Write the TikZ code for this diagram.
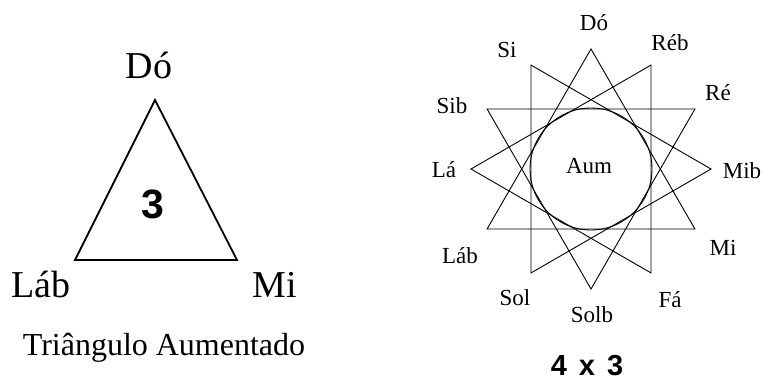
\documentclass[tikz,border=0pt]{standalone}
\usepackage{fontspec}
\setmainfont{Liberation Serif}
\newfontfamily\boldsans{Liberation Sans}[BoldFont={Liberation Sans Bold}]
\usetikzlibrary{calc}
\begin{document}
\begin{tikzpicture}[x=1pt,y=-1pt,
  starlbl/.style={anchor=base,inner sep=0pt,font=\fontsize{23}{23}\selectfont},
  biglbl/.style={anchor=base,inner sep=0pt,font=\fontsize{38}{38}\selectfont},
  starline/.style={line width=0.9pt,line join=miter},
  triline/.style={line width=1.8pt,line join=miter}]
\useasboundingbox[fill=white] (0,0) rectangle (767,383);
% ---------- left triangle ----------
\coordinate (tA) at (155,100);
\coordinate (tB) at (75,260);
\coordinate (tC) at (237,260);
\draw[triline] (tA) -- (tC) -- (tB) -- cycle;
\node[biglbl] (lDo) at (149,78) {Dó};
\node[biglbl] (lLab) at (41,297) {Láb};
\node[biglbl] (lMi) at (275,297) {Mi};
\node[anchor=base,inner sep=0pt,font=\boldsans\bfseries\fontsize{41}{41}\selectfont] (lThree) at (153,218) {3};
\node[anchor=base,inner sep=0pt,font=\fontsize{32}{32}\selectfont] (lCap) at (164,355) {Triângulo Aumentado};
% ---------- right star {12/4} ----------
\coordinate (c) at (591,169);
\foreach \i in {0,...,11}{
  \coordinate (v\i) at ({591+120*sin(30*\i)},{169-120*cos(30*\i)});
}
\draw[starline] (v0) -- (v4) -- (v8) -- cycle;
\draw[starline] (v1) -- (v5) -- (v9) -- cycle;
\draw[starline] (v2) -- (v6) -- (v10) -- cycle;
\draw[starline] (v3) -- (v7) -- (v11) -- cycle;
\draw[line width=0.9pt] (c) circle[radius=61];
\node[starlbl] (sDo) at (594,30) {Dó};
\node[starlbl] (sReb) at (670,50) {Réb};
\node[starlbl] (sRe) at (718,100) {Ré};
\node[starlbl] (sMib) at (742,178) {Mib};
\node[starlbl] (sMi) at (723,255) {Mi};
\node[starlbl] (sFa) at (670,307) {Fá};
\node[starlbl] (sSolb) at (592,322) {Solb};
\node[starlbl] (sSol) at (515,305) {Sol};
\node[starlbl] (sLab) at (460,263) {Láb};
\node[starlbl] (sLa) at (444,177) {Lá};
\node[starlbl] (sSib) at (452,113) {Sib};
\node[starlbl] (sSi) at (507,57) {Si};
\node[starlbl] (sAum) at (589,173) {Aum};
\node[anchor=base,inner sep=0pt,font=\boldsans\bfseries\fontsize{29}{29}\selectfont] (sCap) at (587,375) {4\hspace{4pt} x\hspace{4pt} 3};
\end{tikzpicture}
\end{document}
